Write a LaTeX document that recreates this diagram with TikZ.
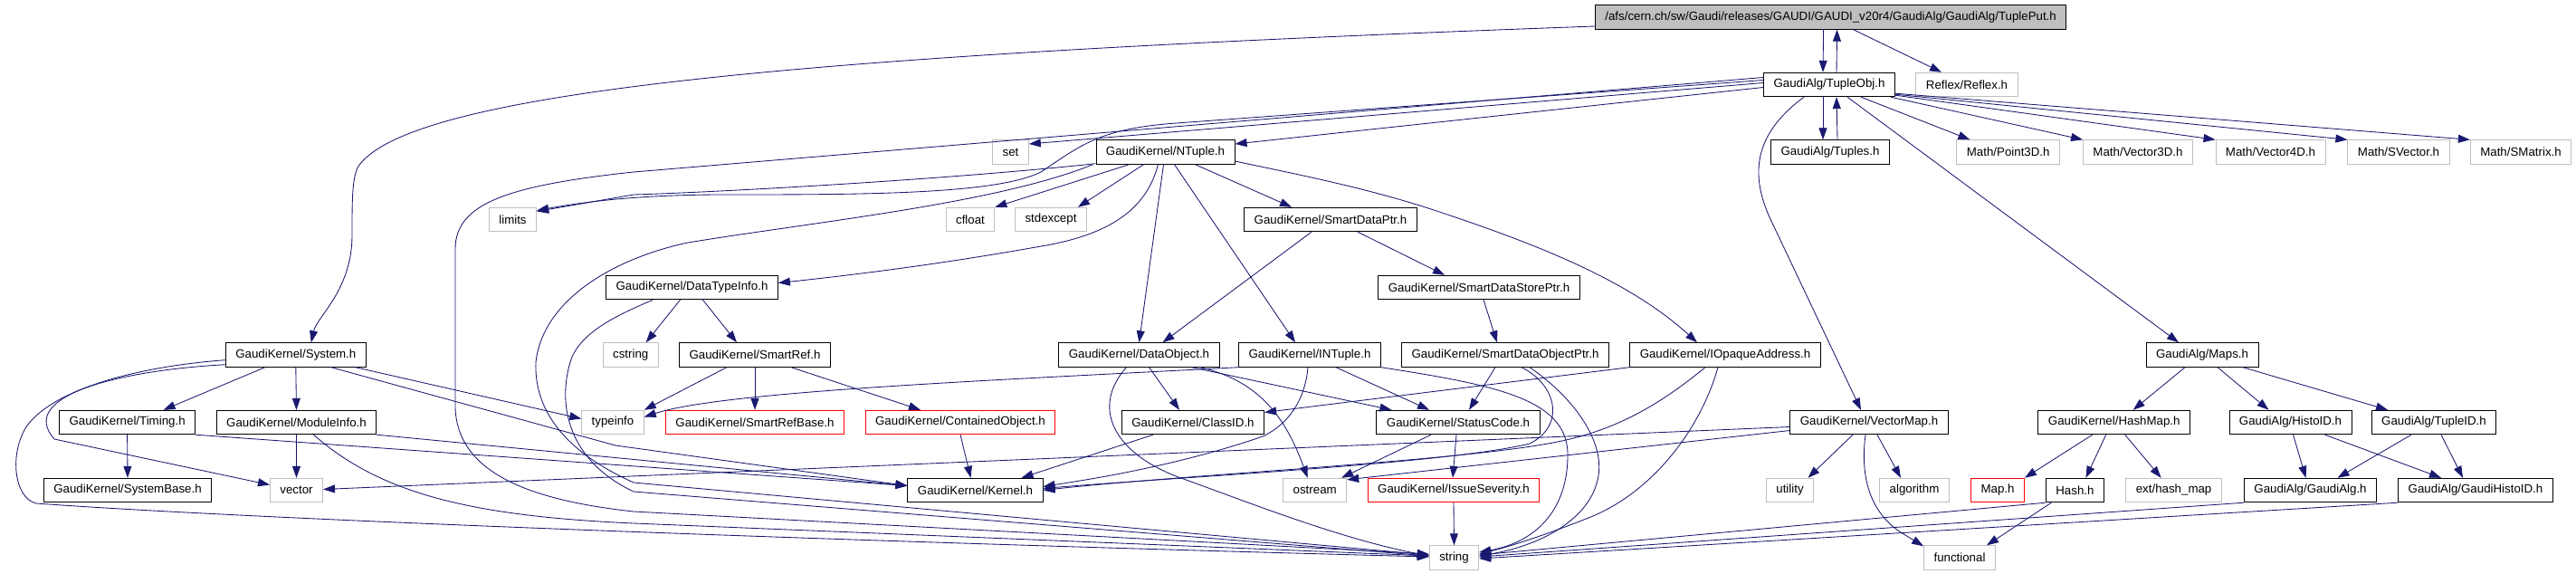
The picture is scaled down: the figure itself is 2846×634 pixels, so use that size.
\documentclass[tikz,border=0pt]{standalone}
\usepackage{fontspec}
\setmainfont{Liberation Sans}
\usetikzlibrary{arrows.meta,calc}
\definecolor{edgec}{HTML}{191970}
\definecolor{grayb}{HTML}{BFBFBF}
\begin{document}
\begin{tikzpicture}[x=1pt,y=-1pt,
  box/.style={rectangle,line width=0.9pt,inner xsep=11pt,inner ysep=0pt,minimum height=26.5pt,font=\fontsize{13.3pt}{15pt}\selectfont},
  docn/.style={box,draw=black},
  extn/.style={box,draw=grayb},
  redn/.style={box,draw=red},
  rootn/.style={box,draw=black,fill=grayb},
  dep/.style={draw=edgec,line width=0.85pt,-{Triangle[length=13pt,width=9pt]}},
]
\useasboundingbox (0,0) rectangle (2846,634);
% ---------------- nodes
\node[rootn] (root) at (2022.6,19) {/afs/cern.ch/sw/Gaudi/releases/GAUDI/GAUDI\_v20r4/GaudiAlg/GaudiAlg/TuplePut.h};
\node[docn] (TupleObj) at (2021,93.5) {GaudiAlg/TupleObj.h};
\node[extn] (Reflex) at (2173,93.5) {Reflex/Reflex.h};
\node[extn] (set) at (1116.5,168) {set};
\node[docn] (NTuple) at (1287.5,168) {GaudiKernel/NTuple.h};
\node[docn] (Tuples) at (2022,168) {GaudiAlg/Tuples.h};
\node[extn] (Point3D) at (2218.7,168) {Math/Point3D.h};
\node[extn] (Vector3D) at (2362,168) {Math/Vector3D.h};
\node[extn] (Vector4D) at (2508.5,168) {Math/Vector4D.h};
\node[extn] (SVector) at (2650,168) {Math/SVector.h};
\node[extn] (SMatrix) at (2785,168) {Math/SMatrix.h};
\node[extn] (limits) at (566.5,242.5) {limits};
\node[extn] (cfloat) at (1072,242.5) {cfloat};
\node[extn] (stdexcept) at (1161,242.5) {stdexcept};
\node[docn] (SmartDataPtr) at (1470,242.5) {GaudiKernel/SmartDataPtr.h};
\node[docn] (DataTypeInfo) at (764.5,317.5) {GaudiKernel/DataTypeInfo.h};
\node[docn] (SmartDataStorePtr) at (1634,317.5) {GaudiKernel/SmartDataStorePtr.h};
\node[docn] (System) at (326.8,392) {GaudiKernel/System.h};
\node[extn] (cstring) at (696.7,392) {cstring};
\node[docn] (SmartRef) at (834,392) {GaudiKernel/SmartRef.h};
\node[docn] (DataObject) at (1258.5,392) {GaudiKernel/DataObject.h};
\node[docn] (INTuple) at (1447,392) {GaudiKernel/INTuple.h};
\node[docn] (SmartDataObjectPtr) at (1663,392) {GaudiKernel/SmartDataObjectPtr.h};
\node[docn] (IOpaqueAddress) at (1906,392) {GaudiKernel/IOpaqueAddress.h};
\node[docn] (Maps) at (2433,392) {GaudiAlg/Maps.h};
\node[docn] (Timing) at (140.6,466.5) {GaudiKernel/Timing.h};
\node[docn] (ModuleInfo) at (327.5,466.5) {GaudiKernel/ModuleInfo.h};
\node[extn] (typeinfo) at (677,466.5) {typeinfo};
\node[redn] (SmartRefBase) at (834,466.5) {GaudiKernel/SmartRefBase.h};
\node[redn] (ContainedObject) at (1061,466.5) {GaudiKernel/ContainedObject.h};
\node[docn] (ClassID) at (1318,466.5) {GaudiKernel/ClassID.h};
\node[docn] (StatusCode) at (1611,466.5) {GaudiKernel/StatusCode.h};
\node[docn] (VectorMap) at (2065,466.5) {GaudiKernel/VectorMap.h};
\node[docn] (HashMap) at (2335.7,466.5) {GaudiKernel/HashMap.h};
\node[docn] (HistoID) at (2530.5,466.5) {GaudiAlg/HistoID.h};
\node[docn] (TupleID) at (2689,466.5) {GaudiAlg/TupleID.h};
\node[docn] (SystemBase) at (141,541.5) {GaudiKernel/SystemBase.h};
\node[extn] (vector) at (327.5,541.5) {vector};
\node[docn] (Kernel) at (1077.5,541.5) {GaudiKernel/Kernel.h};
\node[extn] (ostream) at (1452.7,541.5) {ostream};
\node[redn] (IssueSeverity) at (1606,541.5) {GaudiKernel/IssueSeverity.h};
\node[extn] (utility) at (1977.5,541.5) {utility};
\node[extn] (algorithm) at (2115,541.5) {algorithm};
\node[redn] (Map) at (2207,541.5) {Map.h};
\node[docn] (Hash) at (2292.4,541.5) {Hash.h};
\node[extn] (hashmap) at (2401.6,541.5) {ext/hash\_map};
\node[docn] (GaudiAlg) at (2552.5,541.5) {GaudiAlg/GaudiAlg.h};
\node[docn] (GaudiHistoID) at (2735,541.5) {GaudiAlg/GaudiHistoID.h};
\node[extn] (string) at (1606.5,616) {string};
\node[extn] (functional) at (2165,616) {functional};
% ---------------- edges
% root
\draw[dep] ($(root.south)+(-8,0)$) -- ($(TupleObj.north)+(-7,0)$);
\draw[dep] ($(TupleObj.north)+(8,0)$) -- ($(root.south)+(7,0)$);
\draw[dep] ($(root.south)+(25,0)$) -- ($(Reflex.north)+(-28,0)$);
\draw[dep] ($(root.west)+(0,10)$) .. controls (900,60) and (450,100) .. (395,185) .. controls (389,200) and (389,220) .. (389,260) .. controls (389,320) and (350,350) .. ($(System.north)+(17,0)$);
% TupleObj
\draw[dep] ($(TupleObj.west)+(0,-2)$) -- ($(set.east)+(0,-9)$);
\draw[dep] ($(TupleObj.west)+(0,3)$) -- ($(NTuple.east)+(0,-9)$);
\draw[dep] ($(TupleObj.west)+(0,-5)$) -- (1300,136) .. controls (1215,142) and (1195,160) .. (1150,190) .. controls (1100,215) and (950,215) .. (800,215) .. controls (700,215) and (640,224) .. ($(limits.east)+(0,-10)$);
\draw[dep] ($(TupleObj.west)+(0,-8)$) -- (700,190) .. controls (560,205) and (503,225) .. (503,275) -- (503,450) .. controls (505,520) and (580,552) .. (700,565) -- ($(string.west)+(0,-4)$);
\draw[dep] ($(TupleObj.south)+(-7,0)$) -- ($(Tuples.north)+(-8,0)$);
\draw[dep] ($(Tuples.north)+(8,0)$) -- ($(TupleObj.south)+(8,0)$);
\draw[dep] ($(TupleObj.south)+(35,0)$) -- ($(Point3D.north west)+(15,0)$);
\draw[dep] ($(TupleObj.south east)+(-5,0)$) -- (Vector3D.north west);
\draw[dep] ($(TupleObj.south east)+(0,-2)$) -- (Vector4D.north west);
\draw[dep] ($(TupleObj.south east)+(0,-3)$) -- (SVector.north west);
\draw[dep] ($(TupleObj.south east)+(0,-4)$) -- (SMatrix.north west);
\draw[dep] ($(TupleObj.south west)+(45,0)$) .. controls (1935,150) and (1935,195) .. (1955,240) -- ($(VectorMap.north)+(-9,0)$);
\draw[dep] ($(TupleObj.south)+(20,0)$) -- ($(Maps.north)+(-26,0)$);
% NTuple
\draw[dep] ($(NTuple.south west)+(0,-1)$) .. controls (1050,198) and (800,212) .. (700,215) -- ($(limits.east)+(0,-9)$);
\draw[dep] ($(NTuple.south west)+(-3,0)$) .. controls (1100,225) and (900,245) .. (760,268) .. controls (680,285) and (600,330) .. (592,400) .. controls (590,450) and (620,497) .. (700,533) -- ($(string.west)+(0,-3)$);
\draw[dep] ($(NTuple.south)+(-40,0)$) -- (cfloat.north east);
\draw[dep] ($(NTuple.south)+(-24,0)$) -- ($(stdexcept.north east)+(-10,0)$);
\draw[dep] ($(NTuple.south)+(-8,0)$) .. controls (1268,225) and (1235,258) .. (1150,272) .. controls (1050,290) and (950,303) .. ($(DataTypeInfo.east)+(0,-5)$);
\draw[dep] ($(NTuple.south)+(-2,0)$) -- (DataObject.north);
\draw[dep] ($(NTuple.south)+(10,0)$) -- ($(INTuple.north)+(-16,0)$);
\draw[dep] ($(NTuple.south)+(33,0)$) -- ($(SmartDataPtr.north)+(-43,0)$);
\draw[dep] ($(NTuple.east)+(0,10)$) .. controls (1420,190) and (1500,205) .. (1578,230) .. controls (1700,270) and (1800,310) .. ($(IOpaqueAddress.north)+(-31,0)$);
% SmartDataPtr
\draw[dep] ($(SmartDataPtr.south)+(-21,0)$) -- ($(DataObject.north)+(26,0)$);
\draw[dep] ($(SmartDataPtr.south)+(30,0)$) -- ($(SmartDataStorePtr.north)+(-38,0)$);
\draw[dep] ($(SmartDataStorePtr.south)+(5,0)$) -- ($(SmartDataObjectPtr.north)+(-9,0)$);
% DataTypeInfo
\draw[dep] ($(DataTypeInfo.south)+(-13,0)$) -- ($(cstring.north)+(17,0)$);
\draw[dep] ($(DataTypeInfo.south)+(12,0)$) -- ($(SmartRef.north)+(-20,0)$);
\draw[dep] ($(DataTypeInfo.south west)+(52,0)$) .. controls (690,345) and (640,365) .. (630,400) .. controls (615,450) and (630,510) .. (700,543) -- ($(string.west)+(0,-2)$);
% SmartRef
\draw[dep] ($(SmartRef.south)+(-31,0)$) -- (typeinfo.north east);
\draw[dep] (SmartRef.south) -- (SmartRefBase.north);
\draw[dep] ($(SmartRef.south)+(40,0)$) -- ($(ContainedObject.north)+(-44,0)$);
\draw[dep] (ContainedObject.south) -- ($(Kernel.north)+(-5,0)$);
% System
\draw[dep] ($(System.south)+(-34,0)$) -- ($(Timing.north)+(40,0)$);
\draw[dep] (System.south) -- (ModuleInfo.north);
\draw[dep] ($(System.south)+(39,0)$) -- (680,492) -- ($(Kernel.west)+(0,-5)$);
\draw[dep] ($(System.south)+(66,0)$) -- ($(typeinfo.west)+(0,-4)$);
\draw[dep] ($(System.south west)+(0,-3)$) .. controls (120,410) and (20,440) .. (60,485) -- ($(vector.west)+(0,-6)$);
\draw[dep] ($(System.south west)+(0,-8)$) .. controls (150,405) and (60,430) .. (30,470) .. controls (10,500) and (15,550) .. (40,556) .. controls (300,575) and (1000,600) .. ($(string.west)+(0,-1)$);
% Timing / ModuleInfo
\draw[dep] (Timing.south) -- (SystemBase.north);
\draw[dep] (Timing.south east) -- ($(Kernel.west)+(0,-5)$);
\draw[dep] (ModuleInfo.south) -- (vector.north);
\draw[dep] (ModuleInfo.south east) -- ($(Kernel.west)+(0,-5)$);
\draw[dep] ($(ModuleInfo.south)+(19,0)$) .. controls (420,545) and (520,570) .. (700,578) -- ($(string.west)+(0,-2)$);
% DataObject / ClassID
\draw[dep] ($(DataObject.south)+(11,0)$) -- ($(ClassID.north)+(-15,0)$);
\draw[dep] ($(DataObject.south east)+(-31,0)$) -- ($(StatusCode.north west)+(17,0)$);
\draw[dep] ($(DataObject.south east)+(-22,0)$) .. controls (1390,420) and (1420,460) .. ($(ostream.north)+(-8,0)$);
\draw[dep] ($(DataObject.south)+(-14,0)$) .. controls (1205,450) and (1230,500) .. (1302,527) .. controls (1380,555) and (1480,595) .. ($(string.west)+(0,-2)$);
\draw[dep] ($(ClassID.south)+(-44,0)$) -- ($(Kernel.north)+(51,0)$);
% INTuple
\draw[dep] (INTuple.south west) .. controls (1100,420) and (800,432) .. ($(typeinfo.east)+(0,-6)$);
\draw[dep] ($(INTuple.south)+(-2,0)$) .. controls (1442,440) and (1425,468) .. (1395,482) .. controls (1300,515) and (1200,530) .. ($(Kernel.east)+(0,-4)$);
\draw[dep] ($(INTuple.south)+(29,0)$) -- ($(StatusCode.north)+(-32,0)$);
\draw[dep] (INTuple.south east) .. controls (1650,425) and (1730,440) .. (1732,500) .. controls (1733,560) and (1700,598) .. ($(string.east)+(0,-6)$);
% SmartDataObjectPtr
\draw[dep] ($(SmartDataObjectPtr.south)+(-11,0)$) -- ($(StatusCode.north)+(12,0)$);
\draw[dep] ($(SmartDataObjectPtr.south)+(18,0)$) .. controls (1720,425) and (1730,470) .. (1690,490) .. controls (1600,512) and (1300,527) .. ($(Kernel.east)+(0,-2)$);
\draw[dep] ($(SmartDataObjectPtr.south)+(27,0)$) .. controls (1740,440) and (1775,490) .. (1765,530) .. controls (1755,575) and (1700,603) .. ($(string.east)+(0,-2)$);
% IOpaqueAddress
\draw[dep] (IOpaqueAddress.south west) -- ($(ClassID.east)+(0,-11)$);
\draw[dep] ($(IOpaqueAddress.south)+(-22,0)$) .. controls (1830,450) and (1780,478) .. (1710,490) .. controls (1600,510) and (1300,525) .. (Kernel.east);
\draw[dep] ($(IOpaqueAddress.south)+(-8,0)$) .. controls (1880,470) and (1830,540) .. (1760,570) .. controls (1710,590) and (1670,603) .. ($(string.east)+(0,-4)$);
% StatusCode / IssueSeverity
\draw[dep] ($(StatusCode.south)+(-30,0)$) -- ($(ostream.north east)+(-6,0)$);
\draw[dep] ($(StatusCode.south)+(-2,0)$) -- ($(IssueSeverity.north)+(-1,0)$);
\draw[dep] (IssueSeverity.south) -- (string.north);
% VectorMap
\draw[dep] ($(VectorMap.west)+(0,5)$) -- ($(vector.east)+(0,-1)$);
\draw[dep] ($(VectorMap.west)+(0,9)$) -- ($(ostream.north east)+(0,2)$);
\draw[dep] ($(VectorMap.south)+(-18,0)$) -- ($(utility.north)+(20,0)$);
\draw[dep] ($(VectorMap.south)+(9,0)$) -- ($(algorithm.north)+(-15,0)$);
\draw[dep] ($(VectorMap.south)+(-4,0)$) .. controls (2055,525) and (2065,565) .. (2100,588) -- ($(functional.north west)+(0,1)$);
% Maps
\draw[dep] ($(Maps.south)+(-19,0)$) -- ($(HashMap.north)+(21,0)$);
\draw[dep] ($(Maps.south)+(17,0)$) -- ($(HistoID.north)+(-24,0)$);
\draw[dep] ($(Maps.south)+(45,0)$) -- ($(TupleID.north)+(-51,0)$);
\draw[dep] ($(HashMap.south)+(-24,0)$) -- (Map.north east);
\draw[dep] ($(HashMap.south)+(-9,0)$) -- ($(Hash.north)+(12,0)$);
\draw[dep] ($(HashMap.south)+(12,0)$) -- ($(hashmap.north)+(-14,0)$);
\draw[dep] ($(HistoID.south)+(3,0)$) -- ($(GaudiAlg.north)+(-5,0)$);
\draw[dep] ($(HistoID.south)+(38,0)$) -- ($(GaudiHistoID.north)+(-38,0)$);
\draw[dep] ($(TupleID.south)+(-25,0)$) -- ($(GaudiAlg.north)+(30,0)$);
\draw[dep] ($(TupleID.south)+(8,0)$) -- ($(GaudiHistoID.north)+(-14,0)$);
\draw[dep] (Hash.south west) -- ($(string.east)+(0,-3)$);
\draw[dep] ($(Hash.south)+(-26,0)$) -- ($(functional.north)+(30,0)$);
\draw[dep] (GaudiAlg.south west) -- ($(string.east)+(0,-1)$);
\draw[dep] (GaudiHistoID.south west) -- ($(string.east)+(0,1)$);
\end{tikzpicture}
\end{document}
